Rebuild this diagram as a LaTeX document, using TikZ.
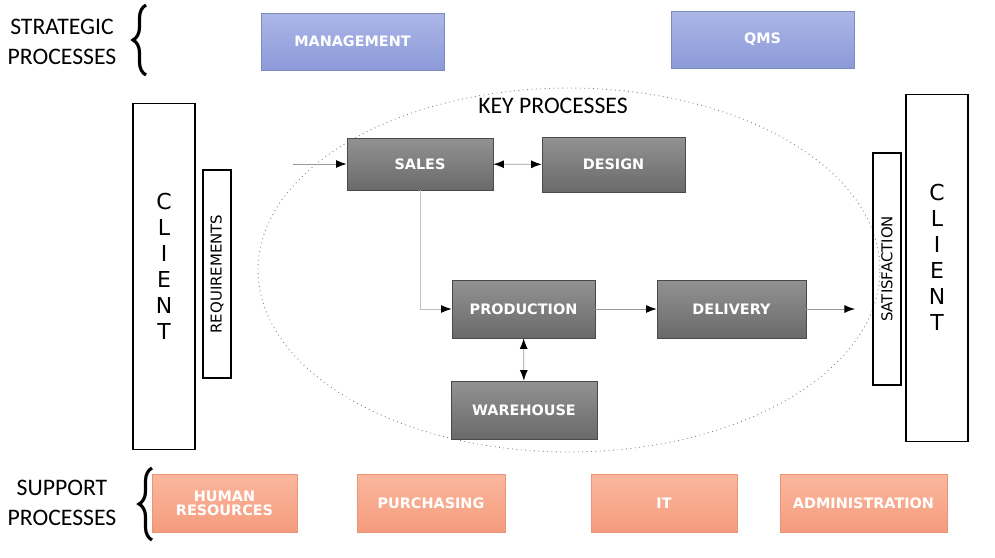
\documentclass[tikz,border=0pt]{standalone}
\usepackage{fontspec}
\setmainfont{Carlito}
\newfontfamily\boxfont{DejaVu Sans}
\usetikzlibrary{shapes.geometric,arrows.meta,decorations.pathreplacing}

\definecolor{stratTop}{HTML}{ACB6E7}
\definecolor{stratBot}{HTML}{8C9AD8}
\definecolor{keyTop}{HTML}{929292}
\definecolor{keyBot}{HTML}{6A6A6A}
\definecolor{suppTop}{HTML}{FBB79E}
\definecolor{suppBot}{HTML}{F59C7D}

\tikzset{
  box/.style={minimum width=2.9cm, minimum height=1.14cm, inner sep=1pt,
    align=center, text=white, font=\boxfont\bfseries\fontsize{8.2}{9}\selectfont},
  strat/.style={box, minimum width=3.66cm, top color=stratTop, bottom color=stratBot, draw=stratBot!90!black, line width=0.3pt},
  key/.style={box, top color=keyTop, bottom color=keyBot, draw=keyBot!70!black, line width=0.4pt},
  supp/.style={box, top color=suppTop, bottom color=suppBot, draw=suppBot!95!black, line width=0.2pt},
  client/.style={draw, line width=0.6pt, minimum width=1.24cm, minimum height=6.93cm},
  letters/.style={align=center, font=\boxfont\fontsize{12.5}{14.8}\selectfont},
  side/.style={draw, line width=0.6pt, minimum width=0.56cm, rotate=90, inner sep=0pt,
    font=\boxfont\fontsize{8.5}{10}\selectfont},
  group/.style={align=center, font=\fontsize{13.5}{17}\selectfont},
  brc/.style={decorate, decoration={brace, amplitude=0.26cm}, line width=1.8pt},
  flow/.style={draw=gray!80, line width=0.5pt, -{Latex[length=6pt, width=4.5pt, black]}},
  flow2/.style={draw=gray!80, line width=0.5pt, {Latex[length=6pt, width=4.5pt, black]}-{Latex[length=6pt, width=4.5pt, black]}}
}

\begin{document}
\begin{tikzpicture}[x=0.02cm, y=-0.02cm]
\useasboundingbox (0,0) rectangle (995,558);

% strategic row
\node (strat) [group] at (62,42) {STRATEGIC\\PROCESSES};
\draw[brc] (146,75) -- (146,5);
\node (mgmt) [strat] at (352.5,41.5) {MANAGEMENT};
\node (qms)  [strat] at (762.5,39.5) {QMS};

% key processes
\node (keyarea) [ellipse, draw=gray, dotted, line width=0.5pt, minimum width=12.44cm, minimum height=7.28cm] at (569,270) {};
\node (keylbl) [group] at (553,106) {KEY PROCESSES};

\node (clientL) [client] at (164,276.5) {};
\node (clientLtxt) [letters] at (164,266) {C\\L\\I\\E\\N\\T};
\node (req) [side, minimum width=4.16cm, minimum height=0.56cm] at (217,274) {REQUIREMENTS};

\node (sales)  [key, minimum width=2.92cm, minimum height=1.04cm] at (420,164) {SALES};
\node (design) [key, minimum width=2.86cm, minimum height=1.1cm] at (613.5,164.5) {DESIGN};
\node (prod)   [key, minimum width=2.86cm, minimum height=1.16cm] at (523.5,309) {PRODUCTION};
\node (deliv)  [key, minimum width=2.98cm, minimum height=1.16cm] at (731.5,309) {DELIVERY};
\node (ware)   [key, minimum width=2.92cm, minimum height=1.16cm] at (524,410) {WAREHOUSE};

\node (sat) [side, minimum width=4.64cm, minimum height=0.56cm] at (887,269) {SATISFACTION};
\node (clientR) [client] at (937,268) {};
\node (clientRtxt) [letters] at (937,257) {C\\L\\I\\E\\N\\T};

\coordinate (in) at (293,164);
\coordinate (out) at (855,309);

\path (in) edge[flow] (sales)
  (sales) edge[flow2] (design)
  (prod) edge[flow] (deliv)
  (deliv) edge[flow] (out)
  (prod) edge[flow2] (ware);
\draw[flow, draw=gray!50] (sales.south) |- (prod.west);

% support row
\node (supp) [group] at (62,503) {SUPPORT\\PROCESSES};
\draw[brc] (152,540) -- (152,468);
\node (hr)    [supp, minimum width=2.9cm, minimum height=1.16cm] at (224.5,503) {HUMAN\\[-1pt]RESOURCES};
\node (purch) [supp, minimum width=2.96cm, minimum height=1.16cm] at (431,503) {PURCHASING};
\node (it)    [supp, minimum width=2.92cm, minimum height=1.16cm] at (664,503) {IT};
\node (admin) [supp, minimum width=3.34cm, minimum height=1.16cm] at (863.5,503) {ADMINISTRATION};
\end{tikzpicture}
\end{document}
